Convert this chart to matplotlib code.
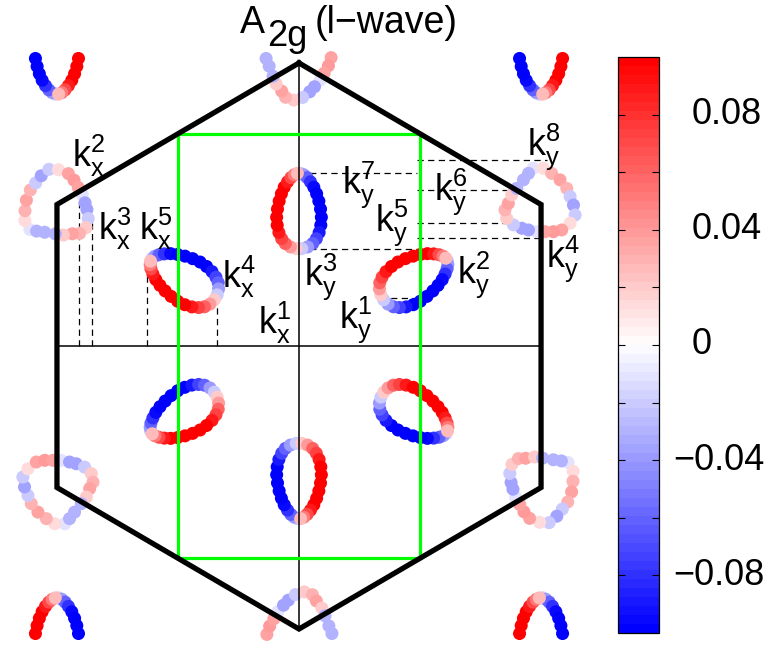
from __future__ import annotations

import numpy as np
import matplotlib

matplotlib.use("Agg")
import matplotlib.pyplot as plt
from matplotlib import transforms
from matplotlib.cm import ScalarMappable
from matplotlib.colors import LinearSegmentedColormap, Normalize

plt.rcParams["font.family"] = ["Liberation Sans", "DejaVu Sans"]
plt.rcParams["mathtext.fontset"] = "custom"
plt.rcParams["mathtext.rm"] = "Liberation Sans"
plt.rcParams["mathtext.it"] = "Liberation Sans"

# first Brillouin zone (hexagon) and the rectangular cell (green)
hex_x = [0.0, 0.866, 0.866, 0.0, -0.866, -0.866, 0.0]
hex_y = [1.0, 0.5, -0.5, -1.0, -0.5, 0.5, 1.0]
rect_x = [-0.433, 0.433, 0.433, -0.433, -0.433]
rect_y = [0.75, 0.75, -0.75, -0.75, 0.75]

# elliptic pocket on the Gamma-K line (upper one), dot centres and gap value
ell_x = [0.006, 0.017, 0.029, 0.041, 0.053, 0.063, 0.071, 0.077, 0.080, 0.078, 0.072, 0.062, 0.049, 0.031, 0.010,
         -0.010, -0.031, -0.049, -0.062, -0.072, -0.078, -0.080, -0.077, -0.071, -0.063, -0.053, -0.041, -0.029, -0.017, -0.006]
ell_y = [0.610, 0.605, 0.595, 0.580, 0.561, 0.538, 0.512, 0.484, 0.455, 0.427, 0.401, 0.379, 0.362, 0.350, 0.344,
         0.344, 0.350, 0.362, 0.379, 0.401, 0.427, 0.455, 0.484, 0.512, 0.538, 0.561, 0.580, 0.595, 0.605, 0.610]
ell_val = [-0.02, -0.04, -0.06, -0.08, -0.095, -0.1, -0.1, -0.1, -0.1, -0.1, -0.09, -0.075, -0.06, -0.04, -0.02,
           0.02, 0.04, 0.06, 0.075, 0.09, 0.1, 0.1, 0.1, 0.1, 0.1, 0.1, 0.09, 0.07, 0.05, 0.025]

# triangular pocket around K = (0.866, 0.5)
tri_x = [0.838, 0.874, 0.904, 0.934, 0.958, 0.970, 0.982, 0.988, 0.970, 0.940, 0.910, 0.880,
         0.851, 0.821, 0.797, 0.767, 0.743, 0.737, 0.749, 0.761, 0.779, 0.803, 0.821]
tri_y = [0.628, 0.628, 0.610, 0.587, 0.557, 0.528, 0.498, 0.463, 0.434, 0.410, 0.404, 0.404,
         0.404, 0.410, 0.416, 0.428, 0.451, 0.481, 0.504, 0.534, 0.557, 0.587, 0.610]
tri_val = [-0.01, 0.015, 0.03, 0.035, 0.03, -0.02, -0.035, -0.02, 0.015, 0.035, 0.04, 0.035,
           -0.01, -0.035, -0.035, -0.02, 0.02, 0.03, 0.035, 0.02, -0.03, -0.03, -0.03]

# neighbouring zone centres whose pockets reach into the k window
gamma_up = [(-0.866, 1.5), (0.866, 1.5)]
gamma_down = [(-0.866, -1.5), (0.866, -1.5)]
ky_max = 1.03

# dashed guide lines
dash_v_x = [-0.787, -0.741, -0.544, -0.293]
dash_v_top = [0.527, 0.435, 0.314, 0.173]
dash_h_y = [0.611, 0.657, 0.551, 0.435, 0.382, 0.343, 0.318, 0.170]
dash_h_x0 = [0.0, 0.422, 0.422, 0.422, 0.422, 0.0, 0.451, 0.290]
dash_h_x1 = [0.422, 0.887, 0.773, 0.744, 0.862, 0.422, 0.533, 0.433]

# k labels: (text, left, baseline)
k_labels = [
    (r"k$_{\rm x}^{\rm 2}$", -0.812, 0.633),
    (r"k$_{\rm x}^{\rm 3}$", -0.719, 0.375),
    (r"k$_{\rm x}^{\rm 5}$", -0.572, 0.375),
    (r"k$_{\rm x}^{\rm 4}$", -0.275, 0.205),
    (r"k$_{\rm x}^{\rm 1}$", -0.146, 0.042),
    (r"k$_{\rm y}^{\rm 7}$", 0.154, 0.541),
    (r"k$_{\rm y}^{\rm 6}$", 0.484, 0.516),
    (r"k$_{\rm y}^{\rm 8}$", 0.816, 0.675),
    (r"k$_{\rm y}^{\rm 5}$", 0.272, 0.406),
    (r"k$_{\rm y}^{\rm 4}$", 0.884, 0.279),
    (r"k$_{\rm y}^{\rm 3}$", 0.018, 0.216),
    (r"k$_{\rm y}^{\rm 2}$", 0.566, 0.223),
    (r"k$_{\rm y}^{\rm 1}$", 0.144, 0.064),
]

cbar_ticks = [-0.08, -0.06, -0.04, -0.02, 0.0, 0.02, 0.04, 0.06, 0.08]
cbar_labels = [(0.08, "0.08"), (0.04, "0.04"), (0.0, "0"), (-0.04, "\u22120.04"), (-0.08, "\u22120.08")]
cbar_range = 0.1


def _place(xs, ys, vals, transform) -> tuple[np.ndarray, np.ndarray]:
    pts = transform.transform(np.column_stack([xs, ys]))
    vals = np.asarray(vals)
    keep = np.abs(pts[:, 1]) <= ky_max
    return pts[keep], vals[keep]


def _pockets() -> tuple[np.ndarray, np.ndarray]:
    all_pts, all_vals = [], []
    for k in range(6):
        rot = transforms.Affine2D().rotate_deg(60 * k)
        for xs, ys, vals in ((ell_x, ell_y, ell_val), (tri_x, tri_y, tri_val)):
            pts, v = _place(xs, ys, vals, rot)
            all_pts.append(pts)
            all_vals.append(v)
    for gx, gy in gamma_up:
        pts, v = _place(ell_x, ell_y, ell_val, transforms.Affine2D().rotate_deg(180).translate(gx, gy))
        all_pts.append(pts)
        all_vals.append(v)
    for gx, gy in gamma_down:
        pts, v = _place(ell_x, ell_y, ell_val, transforms.Affine2D().translate(gx, gy))
        all_pts.append(pts)
        all_vals.append(v)
    return np.vstack(all_pts), np.concatenate(all_vals)


W, H = 781, 657
fig = plt.figure(figsize=(W / 100, H / 100), dpi=100)
ax = fig.add_axes([0, 0, 600 / W, 1])
ax.set_xlim(-1.0698, 1.0769)
ax.set_ylim(-1.0989, 1.2226)
ax.axis("off")

cmap = LinearSegmentedColormap.from_list("bwr64", ["#0000ff", "#ffffff", "#ff0000"], N=64)
norm = Normalize(vmin=-cbar_range, vmax=cbar_range)

pts, vals = _pockets()
ax.scatter(pts[:, 0], pts[:, 1], c=vals, cmap=cmap, norm=norm, s=88, linewidths=0, zorder=2)

for x, top in zip(dash_v_x, dash_v_top):
    ax.plot([x, x], [0, top], color="black", lw=0.9, dashes=(5, 3.5), zorder=1)
for y, x0, x1 in zip(dash_h_y, dash_h_x0, dash_h_x1):
    ax.plot([x0, x1], [y, y], color="black", lw=0.9, dashes=(5, 3.5), zorder=1)

ax.plot([-0.866, 0.866], [0, 0], color="black", lw=1.1, zorder=3)
ax.plot([0, 0], [-1, 1], color="black", lw=1.1, zorder=3)
ax.plot(rect_x, rect_y, color="#00ff00", lw=2.3, zorder=3, solid_joinstyle="miter")
ax.plot(hex_x, hex_y, color="black", lw=3.8, zorder=4, solid_joinstyle="miter")

for text, x, y in k_labels:
    ax.text(x, y, text, fontsize=26, ha="left", va="baseline", zorder=5)

# title A_2g (l-wave)
fig.text(240 / W, 1 - 33 / H, "A", fontsize=27, ha="left", va="baseline")
fig.text(267 / W, 1 - 46 / H, "2g", fontsize=26, ha="left", va="baseline")
fig.text(315 / W, 1 - 33 / H, "(l\u2212wave)", fontsize=27, ha="left", va="baseline")

cax = fig.add_axes([618 / W, 24 / H, 41 / W, 576 / H])
cbar = fig.colorbar(ScalarMappable(norm=norm, cmap=cmap), cax=cax)
cbar.set_ticks(cbar_ticks)
cbar.outline.set_linewidth(0.9)
cax.tick_params(axis="y", direction="in", left=True, right=True, labelleft=False, labelright=False,
                length=5, width=0.8)
for value, label in cbar_labels:
    left = 1.34 if value < 0 else 1.805
    cax.text(left, value, label, transform=cax.get_yaxis_transform(), fontsize=26,
             ha="left", va="center")

fig.savefig("out.png", dpi=100)
